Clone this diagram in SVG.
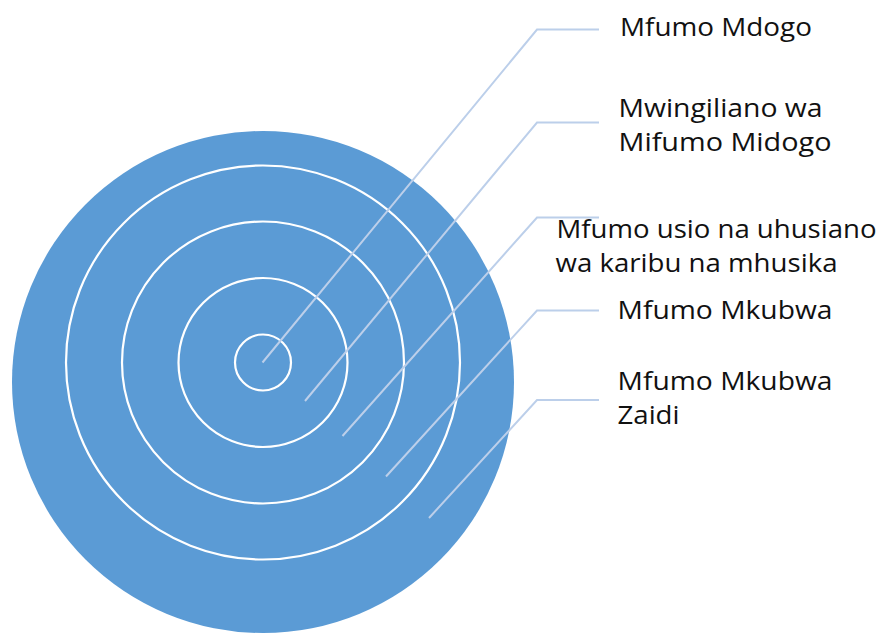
<svg xmlns="http://www.w3.org/2000/svg" width="881" height="635" viewBox="0 0 881 635">
<style>
.bg{fill:#5b9bd5;}
.ring{fill:none;stroke:#ffffff;stroke-width:2.2;}
.lead{fill:none;stroke:#bccfea;stroke-width:2;}
.lbl{font-family:"Open Sans","Liberation Sans",sans-serif;font-size:25.5px;fill:#111111;}
</style>
<rect width="881" height="635" fill="#ffffff"/>
<g id="target">
<circle id="ring5" class="bg" cx="263" cy="382" r="251"/>
<circle id="ring4" class="ring" cx="263" cy="362.5" r="197"/>
<circle id="ring3" class="ring" cx="263" cy="362.5" r="141"/>
<circle id="ring2" class="ring" cx="263" cy="362.5" r="84.5"/>
<circle id="ring1" class="ring" cx="263" cy="362.5" r="28"/>
</g>
<g id="connectors">
<polyline class="lead" points="262.5,362.5 537,29.5 599,29.5"/>
<polyline class="lead" points="305,401 537,122.5 599,122.5"/>
<polyline class="lead" points="342.5,436 537,217.5 599,217.5"/>
<polyline class="lead" points="386,476.5 537,310.5 599,310.5"/>
<polyline class="lead" points="429,518 537,400 599,400"/>
</g>
<g id="label1"><text class="lbl" x="620" y="36" textLength="192" lengthAdjust="spacingAndGlyphs">Mfumo Mdogo</text></g>
<g id="label2"><text class="lbl" x="618.5" y="116.5" textLength="204" lengthAdjust="spacingAndGlyphs">Mwingiliano wa</text><text class="lbl" x="618.5" y="150.5" textLength="213" lengthAdjust="spacingAndGlyphs">Mifumo Midogo</text></g>
<g id="label3"><text class="lbl" x="556.5" y="237.5" textLength="320" lengthAdjust="spacingAndGlyphs">Mfumo usio na uhusiano</text><text class="lbl" x="555.5" y="271.5" textLength="282" lengthAdjust="spacingAndGlyphs">wa karibu na mhusika</text></g>
<g id="label4"><text class="lbl" x="617.5" y="318.5" textLength="215" lengthAdjust="spacingAndGlyphs">Mfumo Mkubwa</text></g>
<g id="label5"><text class="lbl" x="617.5" y="389.5" textLength="215" lengthAdjust="spacingAndGlyphs">Mfumo Mkubwa</text><text class="lbl" x="617.5" y="423.5" textLength="62" lengthAdjust="spacingAndGlyphs">Zaidi</text></g>
</svg>
